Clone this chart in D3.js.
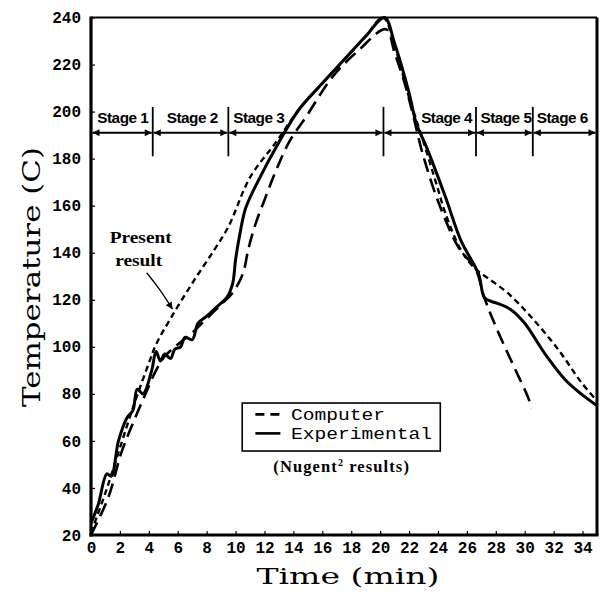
<!DOCTYPE html>
<html>
<head>
<meta charset="utf-8">
<script src="https://cdn.jsdelivr.net/npm/d3@7"></script>
<style>
  html, body { margin: 0; padding: 0; background: #fff; }
  svg { display: block; }
</style>
</head>
<body>
<svg id="chart" width="603" height="594"></svg>
<script>
// Heating / cooling cycle temperatures (time in min, temperature in C)
const presentT = [0, 1, 2, 3, 4, 4.5, 5.5, 7, 8.5, 9.5, 11, 12.8, 14.4, 16, 17.5, 19, 20.2,
  21, 22, 22.9, 24, 24.5, 25.6, 26.6, 27.5, 28.8, 30.4, 32.3, 33.9, 35];
const presentV = [21, 38, 57, 76, 93, 101, 112, 127, 141, 151, 172, 187, 201, 212, 222, 232, 240,
  228, 206, 189, 167, 157, 141, 133, 129, 123, 113, 99, 85, 77];

const computerT = [0, 1.2, 2.1, 3.0, 3.7, 4.5, 5.1, 6, 7, 8, 9, 9.8, 10.5, 10.9, 11.4, 12.1, 12.8,
  13.7, 14.9, 16.7, 18.5, 20.4, 21, 21.7, 22.3, 22.9, 24.0, 25.4, 26.6, 27.2, 27.7, 28.4, 29.3, 30.2, 30.5];
const computerV = [20, 36, 55, 69, 79, 90, 96, 101, 106, 112, 118, 123, 131, 142, 152.6, 164, 175,
  187, 198, 214.7, 226, 235, 225, 212, 198, 183, 162, 142.5, 133, 121, 113, 103, 91, 79, 74];

const experimentalT = [0, 0.5, 1.1, 1.4, 1.9, 2.5, 2.9, 3.2, 3.6, 4.2, 4.5, 4.8, 5.1, 5.5, 5.8, 6.2,
  6.5, 7.0, 7.4, 8.0, 8.7, 9.4, 9.8, 10.0, 10.3, 10.7, 11.6, 13.0, 14.4, 16, 17.5, 19, 20.3,
  21, 22, 22.5, 23.2, 24.5, 25.6, 26.8, 27.2, 27.6, 28.1, 29.0, 30.0, 31.4, 32.8, 33.9, 35];
const experimentalV = [25, 33, 46, 45, 60, 70, 73, 82, 80, 90, 98, 94, 97, 95, 99, 100,
  104, 103, 110, 113, 117, 121, 127, 137, 148, 159, 171, 187, 201, 212, 222, 232, 240,
  229, 208, 195, 185, 164, 145, 131, 121, 119.5, 118.5, 116, 110, 97, 86, 80, 75];

// Axis ticks
const xTicks = d3.range(0, 35, 2);            // 0 … 34
const yTicks = d3.range(20, 241, 20);         // 20 … 240

// Process stages along the top of the plot
const stageBounds = [0, 4.27, 9.5, 20.23, 26.63, 30.56, 35];
const stageLabels = ["Stage 1", "Stage 2", "Stage 3", "Stage 4", "Stage 5", "Stage 6"];
const stageLabelT = [2.2, 7.0, 11.6, 24.6, 28.7, 32.6];
const stageArrowV = 191;
const stageLabelV = 195.2;
const dividerV = [181, 202];

const svg = d3.select("#chart");
const W = 603, H = 594;
const margin = { left: 91, right: 6, top: 17.5, bottom: 59 };

const x = d3.scaleLinear().domain([0, 35]).range([margin.left, W - margin.right]);
const y = d3.scaleLinear().domain([20, 240]).range([H - margin.bottom, margin.top]);

svg.append("rect").attr("width", W).attr("height", H).attr("fill", "#fff");

// Arrowhead marker
const defs = svg.append("defs");
defs.append("marker")
  .attr("id", "arrow")
  .attr("viewBox", "0 0 10 10")
  .attr("refX", 10).attr("refY", 5)
  .attr("markerWidth", 9).attr("markerHeight", 7)
  .attr("markerUnits", "userSpaceOnUse")
  .attr("orient", "auto-start-reverse")
  .append("path").attr("d", "M0,0 L10,5 L0,10 Z").attr("fill", "#000");

// Axes
const tickFont = "'Liberation Mono', 'Courier New', monospace";
const xAxis = svg.append("g")
  .attr("transform", `translate(0,${y(20)})`)
  .call(d3.axisBottom(x).tickValues(xTicks).tickSizeInner(-4).tickSizeOuter(0).tickPadding(7));
const yAxis = svg.append("g")
  .attr("transform", `translate(${x(0)},0)`)
  .call(d3.axisLeft(y).tickValues(yTicks).tickSizeInner(-4).tickSizeOuter(0).tickPadding(10));
[xAxis, yAxis].forEach(g => {
  g.select(".domain").remove();
  g.selectAll(".tick line").attr("stroke", "#000").attr("stroke-width", 1.2);
  g.selectAll(".tick text")
    .attr("font-family", tickFont).attr("font-weight", "bold")
    .attr("font-size", 16).attr("fill", "#000");
});

// Plot frame
const x0 = x(0), x1 = x(35), y0 = y(20), y1 = y(240);
svg.append("line").attr("x1", x0).attr("x2", x1).attr("y1", y1).attr("y2", y1)
  .attr("stroke", "#000").attr("stroke-width", 2.2);
svg.append("line").attr("x1", x1).attr("x2", x1).attr("y1", y1).attr("y2", y0)
  .attr("stroke", "#000").attr("stroke-width", 3);
svg.append("line").attr("x1", x0).attr("x2", x0).attr("y1", y1 - 1).attr("y2", y0 + 1.5)
  .attr("stroke", "#000").attr("stroke-width", 3.2);
svg.append("line").attr("x1", x0 - 1.5).attr("x2", x1 + 1.5).attr("y1", y0).attr("y2", y0)
  .attr("stroke", "#000").attr("stroke-width", 3.2);

// Axis titles
const titleFont = "'DejaVu Serif', 'Liberation Serif', serif";
svg.append("text")
  .attr("x", (x(0) + x(35)) / 2 + 4).attr("y", 584)
  .attr("text-anchor", "middle")
  .attr("font-family", titleFont).attr("font-size", 23)
  .attr("textLength", 183).attr("lengthAdjust", "spacingAndGlyphs")
  .text("Time (min)");
svg.append("text")
  .attr("transform", `translate(40,${(147 + 407) / 2}) rotate(-90)`)
  .attr("text-anchor", "middle")
  .attr("font-family", titleFont).attr("font-size", 25)
  .attr("textLength", 260).attr("lengthAdjust", "spacingAndGlyphs")
  .text("Temperature (C)");

// Curves
const line = d3.line()
  .x(d => x(d[0])).y(d => y(d[1]))
  .curve(d3.curveCatmullRom.alpha(0.5));
const zip = (a, b) => a.map((t, i) => [t, b[i]]);

svg.append("path").datum(zip(computerT, computerV))
  .attr("d", line).attr("fill", "none").attr("stroke", "#000")
  .attr("stroke-width", 2.6).attr("stroke-dasharray", "14,7");
svg.append("path").datum(zip(presentT, presentV))
  .attr("d", line).attr("fill", "none").attr("stroke", "#000")
  .attr("stroke-width", 2.4).attr("stroke-dasharray", "6,4");
svg.append("path").datum(zip(experimentalT, experimentalV))
  .attr("d", line).attr("fill", "none").attr("stroke", "#000")
  .attr("stroke-width", 3).attr("stroke-linejoin", "round");

// Stage arrows and labels
const stages = svg.append("g");
for (let i = 0; i < stageLabels.length; i++) {
  stages.append("line")
    .attr("x1", x(stageBounds[i]) + (i === 0 ? 1.5 : 1))
    .attr("x2", x(stageBounds[i + 1]) - (i === stageLabels.length - 1 ? 1.5 : 1))
    .attr("y1", y(stageArrowV)).attr("y2", y(stageArrowV))
    .attr("stroke", "#000").attr("stroke-width", 2)
    .attr("marker-start", "url(#arrow)").attr("marker-end", "url(#arrow)");
  stages.append("text")
    .attr("x", x(stageLabelT[i])).attr("y", y(stageLabelV))
    .attr("text-anchor", "middle")
    .attr("font-family", "'Liberation Sans Narrow', 'Liberation Sans', Arial, sans-serif")
    .attr("font-weight", "bold").attr("font-size", 15)
    .attr("textLength", 51).attr("lengthAdjust", "spacingAndGlyphs")
    .attr("letter-spacing", -0.5)
    .text(stageLabels[i]);
}
stageBounds.slice(1, -1).forEach(t => {
  stages.append("line")
    .attr("x1", x(t)).attr("x2", x(t))
    .attr("y1", y(dividerV[1])).attr("y2", y(dividerV[0]))
    .attr("stroke", "#000").attr("stroke-width", 1.8);
});

// "Present result" annotation
const noteFont = "'Liberation Serif', 'Times New Roman', serif";
svg.append("text").attr("x", x(3.44)).attr("y", y(144))
  .attr("text-anchor", "middle").attr("font-family", noteFont)
  .attr("font-weight", "bold").attr("font-size", 16)
  .attr("textLength", 62).attr("lengthAdjust", "spacingAndGlyphs")
  .text("Present");
svg.append("text").attr("x", x(3.3)).attr("y", y(134.5))
  .attr("text-anchor", "middle").attr("font-family", noteFont)
  .attr("font-weight", "bold").attr("font-size", 16)
  .attr("textLength", 47).attr("lengthAdjust", "spacingAndGlyphs")
  .text("result");
const arrowPts = [[3.85, 131.5], [4.7, 125], [5.64, 116]];
svg.append("path")
  .attr("d", d3.line().x(d => x(d[0])).y(d => y(d[1])).curve(d3.curveBasis)(arrowPts))
  .attr("fill", "none").attr("stroke", "#000").attr("stroke-width", 1.3)
  .attr("marker-end", "url(#arrow)");

// Legend
const legend = { t0: 10.46, t1: 24.16, v0: 55.7, v1: 76.1 };
svg.append("rect")
  .attr("x", x(legend.t0)).attr("y", y(legend.v1))
  .attr("width", x(legend.t1) - x(legend.t0)).attr("height", y(legend.v0) - y(legend.v1))
  .attr("fill", "#fff").attr("stroke", "#000").attr("stroke-width", 1.6);
const legendItems = [
  { name: "Computer", dash: "9,6", v: 71.3 },
  { name: "Experimental", dash: null, v: 63.2 }
];
legendItems.forEach(it => {
  svg.append("line")
    .attr("x1", x(11.37)).attr("x2", x(13.1))
    .attr("y1", y(it.v)).attr("y2", y(it.v))
    .attr("stroke", "#000").attr("stroke-width", 2.6)
    .attr("stroke-dasharray", it.dash);
  svg.append("text")
    .attr("x", x(13.84)).attr("y", y(it.v) + 5.5)
    .attr("font-family", "'Liberation Mono', 'Courier New', monospace")
    .attr("font-size", 16.5)
    .attr("textLength", it.name.length * 11.75).attr("lengthAdjust", "spacingAndGlyphs")
    .text(it.name);
});
const nug = svg.append("text")
  .attr("x", x(17.34)).attr("y", y(46.8))
  .attr("text-anchor", "middle").attr("font-family", noteFont)
  .attr("font-weight", "bold").attr("font-size", 16.5)
  .attr("letter-spacing", 1.1);
nug.append("tspan").text("(Nugent");
nug.append("tspan").attr("font-size", 10).attr("dy", -6).text("2");
nug.append("tspan").attr("dy", 6).text(" results)");
</script>
</body>
</html>
